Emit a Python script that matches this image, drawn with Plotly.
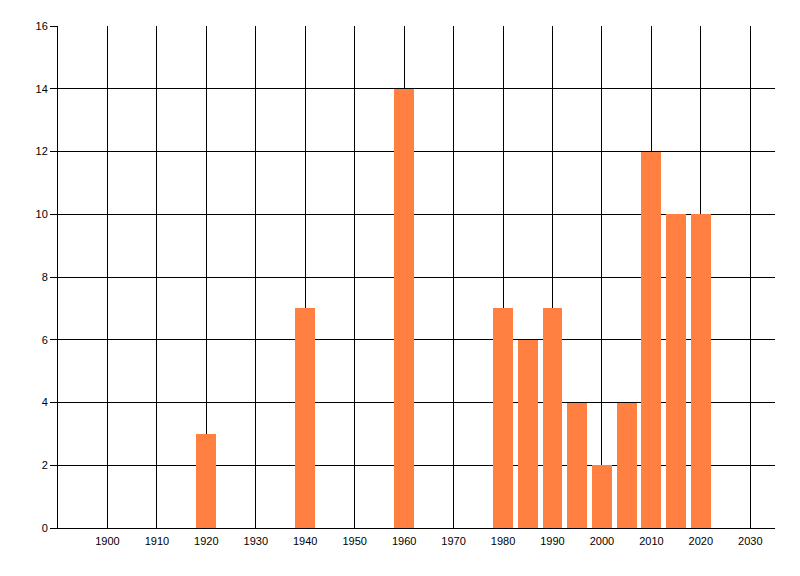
import plotly.graph_objects as go

# bar data (year, count)
years = [1920, 1940, 1960, 1980, 1985, 1990, 1995, 2000, 2005, 2010, 2015, 2020]
counts = [3, 7, 14, 7, 6, 7, 4, 2, 4, 12, 10, 10]
x_ticks = list(range(1900, 2031, 10))

fig = go.Figure()
fig.add_trace(go.Bar(
    x=years,
    y=counts,
    width=4,
    marker=dict(color="#FF8040", line=dict(width=0)),
    showlegend=False,
))

# page body has an 8px margin, so figure is a bit smaller than window
fig.update_layout(
    width=792,
    height=568,
    margin=dict(l=49.5, r=24.5, t=18, b=48),
    plot_bgcolor="white",
    paper_bgcolor="white",
    font=dict(family="Liberation Sans, Arial", size=11, color="black"),
    bargap=0,
    xaxis=dict(
        range=[1890, 2035],
        tickvals=x_ticks,
        showgrid=True,
        gridcolor="black",
        gridwidth=1,
        showline=True,
        linecolor="black",
        linewidth=1,
        ticks="",
        ticklabelstandoff=3,
        zeroline=False,
    ),
    yaxis=dict(
        range=[0, 16],
        dtick=2,
        showgrid=True,
        gridcolor="black",
        gridwidth=1,
        showline=True,
        linecolor="black",
        linewidth=1,
        ticks="outside",
        ticklen=7,
        tickcolor="black",
        zeroline=False,
    ),
)

fig.write_html("out.html")
